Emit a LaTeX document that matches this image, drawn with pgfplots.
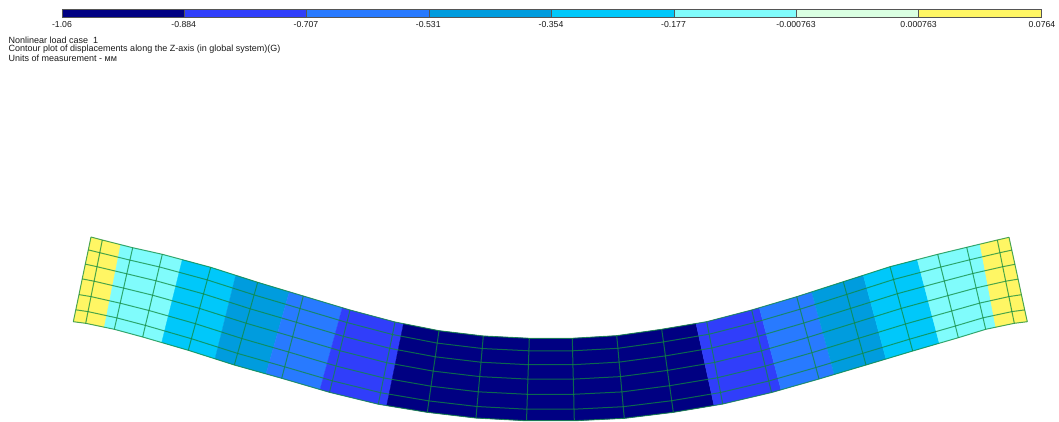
\documentclass[border=0pt]{standalone}
\usepackage{fontspec}
\setmainfont{Liberation Sans}
\usepackage{pgfplots}
\pgfplotsset{compat=1.18}

\definecolor{cNavy}{RGB}{0,0,130}
\definecolor{cBlueA}{RGB}{48,62,250}
\definecolor{cBlueB}{RGB}{40,122,255}
\definecolor{cBlueC}{RGB}{0,156,222}
\definecolor{cCyan}{RGB}{0,200,250}
\definecolor{cLight}{RGB}{128,252,252}
\definecolor{cPale}{RGB}{218,255,226}
\definecolor{cYellow}{RGB}{255,246,100}
\definecolor{cMesh}{RGB}{16,138,62}
\definecolor{cFrame}{RGB}{85,85,85}

\pgfplotsset{
	band/.style={fill=#1, draw=#1, line width=0.3pt},
	seg/.style={fill=#1, draw=cFrame, line width=0.8pt},
	grid/.style={draw=cMesh, line width=1pt, draw opacity=0.75},
}

\begin{document}
\begin{tikzpicture}
\begin{axis}[
	scale only axis, width=1059pt, height=421pt,
	xmin=0, xmax=1059, ymin=0, ymax=421,
	y dir=reverse,
	axis line style={draw=none}, xtick=\empty, ytick=\empty,
]
% colour scale
\addplot[seg=cNavy] coordinates {(62,9.5)(184.3,9.5)(184.3,17.5)(62,17.5)} --cycle;
\addplot[seg=cBlueA] coordinates {(184.3,9.5)(306.6,9.5)(306.6,17.5)(184.3,17.5)} --cycle;
\addplot[seg=cBlueB] coordinates {(306.6,9.5)(429,9.5)(429,17.5)(306.6,17.5)} --cycle;
\addplot[seg=cBlueC] coordinates {(429,9.5)(551.5,9.5)(551.5,17.5)(429,17.5)} --cycle;
\addplot[seg=cCyan] coordinates {(551.5,9.5)(674,9.5)(674,17.5)(551.5,17.5)} --cycle;
\addplot[seg=cLight] coordinates {(674,9.5)(796.3,9.5)(796.3,17.5)(674,17.5)} --cycle;
\addplot[seg=cPale] coordinates {(796.3,9.5)(918.6,9.5)(918.6,17.5)(796.3,17.5)} --cycle;
\addplot[seg=cYellow] coordinates {(918.6,9.5)(1041,9.5)(1041,17.5)(918.6,17.5)} --cycle;

% colour bands of the beam, left to right
\addplot[band=cYellow] coordinates {(91,237)(102.3,240)(120.7,244.7)(104.3,327.2)(85.7,323.3)(73.3,321.7)} --cycle;
\addplot[band=cLight] coordinates {(120.7,244.7)(132.7,247.7)(162.3,254.3)(182.3,259.7)(161.7,342.5)(142.7,337)(114.3,329.3)(104.3,327.2)} --cycle;
\addplot[band=cCyan] coordinates {(182.3,259.7)(210.7,267.3)(235.7,275.3)(215,358.8)(188.3,350.3)(161.7,342.5)} --cycle;
\addplot[band=cBlueC] coordinates {(235.7,275.3)(257.7,282.3)(289.3,291.8)(266,373.9)(234.3,365)(215,358.8)} --cycle;
\addplot[band=cBlueB] coordinates {(289.3,291.8)(303.3,296)(342.3,307.7)(320,389.5)(281.7,378.3)(266,373.9)} --cycle;
\addplot[band=cBlueA] coordinates {(342.3,307.7)(350,310)(395,322)(403.5,323.7)(386.7,405.6)(378.3,404.2)(329.5,392.3)(320,389.5)} --cycle;
\addplot[band=cNavy] coordinates {(403.5,323.7)(439,330.7)(483.3,336)(529.3,338.3)(572.3,338.3)(616.7,335.7)(661.7,329.3)(696,323.5)(714,405.5)(673.3,412.3)(624.3,418.3)(574.3,420.7)(526.5,420.7)(476,418)(427.3,412.3)(386.7,405.6)} --cycle;
\addplot[band=cBlueA] coordinates {(696,323.5)(706.7,321.7)(751.7,310)(759.3,307.8)(781,389.8)(771.5,392.5)(722.7,404)(714,405.5)} --cycle;
\addplot[band=cBlueB] coordinates {(759.3,307.8)(796.7,296.7)(811.7,291.9)(834.3,374.4)(819,379)(781,389.8)} --cycle;
\addplot[band=cBlueC] coordinates {(811.7,291.9)(843.3,281.7)(863.3,275.3)(886,359)(866,365)(834.3,374.4)} --cycle;
\addplot[band=cCyan] coordinates {(863.3,275.3)(890,266.7)(917.3,259.6)(939.3,343.2)(912.7,351)(886,359)} --cycle;
\addplot[band=cLight] coordinates {(917.3,259.6)(937.7,254.3)(966.7,247.3)(980,244.1)(995.7,327.2)(985.7,329.3)(958.3,337.7)(939.3,343.2)} --cycle;
\addplot[band=cYellow] coordinates {(980,244.1)(997.3,240)(1009,237.3)(1027.3,321.7)(1014.3,323.3)(995.7,327.2)} --cycle;

% mesh, lines along the beam
\addplot[grid] coordinates {(91,237)(102.3,240)(132.7,247.7)(162.3,254.3)(210.7,267.3)(257.7,282.3)(303.3,296)(350,310)(395,322)(439,330.7)(483.3,336)(529.3,338.3)(572.3,338.3)(616.7,335.7)(661.7,329.3)(706.7,321.7)(751.7,310)(796.7,296.7)(843.3,281.7)(890,266.7)(937.7,254.3)(966.7,247.3)(997.3,240)(1009,237.3)};
\addplot[grid] coordinates {(88.3,249.9)(99.8,252.7)(129.9,260.1)(159.3,266.9)(207.3,279.9)(254.1,294.9)(300,308.5)(346.9,322.5)(392.5,334.5)(437.2,343.1)(482.2,348.5)(528.9,350.8)(572.6,350.8)(617.9,348.3)(663.5,341.9)(709.1,334.2)(754.7,322.5)(800.1,309.2)(846.8,294.4)(893.5,279.5)(940.8,267)(969.6,259.8)(999.9,252.7)(1011.8,250.1)};
\addplot[grid] coordinates {(85.3,264.1)(97,266.7)(126.8,273.8)(156,280.8)(203.5,293.9)(250.2,308.8)(296.4,322.3)(343.4,336.3)(389.7,348.3)(435.3,356.8)(481,362.2)(528.4,364.7)(572.9,364.7)(619.1,362.1)(665.4,355.9)(711.8,348)(758,336.4)(803.8,323)(850.6,308.4)(897.3,293.7)(944.3,281)(972.8,273.5)(1002.7,266.7)(1014.9,264.3)};
\addplot[grid] coordinates {(82.2,278.9)(94.1,281.2)(123.6,288.1)(152.6,295.2)(199.6,308.4)(246.1,323.2)(292.6,336.7)(339.9,350.7)(386.7,362.7)(433.2,371.1)(479.7,376.6)(527.9,379.1)(573.3,379.1)(620.5,376.6)(667.4,370.4)(714.6,362.4)(761.5,350.8)(807.7,337.4)(854.5,322.9)(901.2,308.4)(947.9,295.6)(976.1,287.9)(1005.7,281.2)(1018.1,279.1)};
\addplot[grid] coordinates {(79,294.6)(91,296.6)(120.2,303.2)(149,310.5)(195.5,323.7)(241.8,338.5)(288.6,352)(336.1,366)(383.6,377.9)(431,386.2)(478.3,391.8)(527.4,394.3)(573.7,394.3)(621.9,391.9)(669.6,385.7)(717.6,377.7)(765.2,366.1)(811.9,352.7)(858.7,338.3)(905.4,324)(951.7,311)(979.6,303.1)(1008.9,296.6)(1021.4,294.7)};
\addplot[grid] coordinates {(75.8,309.8)(88,311.6)(116.9,317.9)(145.4,325.4)(191.4,338.7)(237.6,353.4)(284.7,366.8)(332.4,380.8)(380.6,392.7)(428.9,400.9)(477,406.5)(526.9,409.2)(574,409.2)(623.2,406.7)(671.7,400.7)(720.5,392.5)(768.7,381)(815.9,367.5)(862.8,353.3)(909.5,339.2)(955.4,326)(983,317.8)(1011.9,311.6)(1024.7,309.9)};
\addplot[grid] coordinates {(73.3,321.7)(85.7,323.3)(114.3,329.3)(142.7,337)(188.3,350.3)(234.3,365)(281.7,378.3)(329.5,392.3)(378.3,404.2)(427.3,412.3)(476,418)(526.5,420.7)(574.3,420.7)(624.3,418.3)(673.3,412.3)(722.7,404)(771.5,392.5)(819,379)(866,365)(912.7,351)(958.3,337.7)(985.7,329.3)(1014.3,323.3)(1027.3,321.7)};

% mesh, lines across the beam
\addplot[grid] coordinates {(91,237)(88.3,249.9)(85.3,264.1)(82.2,278.9)(79,294.6)(75.8,309.8)(73.3,321.7)};
\addplot[grid] coordinates {(102.3,240)(99.8,252.7)(97,266.7)(94.1,281.2)(91,296.6)(88,311.6)(85.7,323.3)};
\addplot[grid] coordinates {(132.7,247.7)(129.9,260.1)(126.8,273.8)(123.6,288.1)(120.2,303.2)(116.9,317.9)(114.3,329.3)};
\addplot[grid] coordinates {(162.3,254.3)(159.3,266.9)(156,280.8)(152.6,295.2)(149,310.5)(145.4,325.4)(142.7,337)};
\addplot[grid] coordinates {(210.7,267.3)(207.3,279.9)(203.5,293.9)(199.6,308.4)(195.5,323.7)(191.4,338.7)(188.3,350.3)};
\addplot[grid] coordinates {(257.7,282.3)(254.1,294.9)(250.2,308.8)(246.1,323.2)(241.8,338.5)(237.6,353.4)(234.3,365)};
\addplot[grid] coordinates {(303.3,296)(300,308.5)(296.4,322.3)(292.6,336.7)(288.6,352)(284.7,366.8)(281.7,378.3)};
\addplot[grid] coordinates {(350,310)(346.9,322.5)(343.4,336.3)(339.9,350.7)(336.1,366)(332.4,380.8)(329.5,392.3)};
\addplot[grid] coordinates {(395,322)(392.5,334.5)(389.7,348.3)(386.7,362.7)(383.6,377.9)(380.6,392.7)(378.3,404.2)};
\addplot[grid] coordinates {(439,330.7)(437.2,343.1)(435.3,356.8)(433.2,371.1)(431,386.2)(428.9,400.9)(427.3,412.3)};
\addplot[grid] coordinates {(483.3,336)(482.2,348.5)(481,362.2)(479.7,376.6)(478.3,391.8)(477,406.5)(476,418)};
\addplot[grid] coordinates {(529.3,338.3)(528.9,350.8)(528.4,364.7)(527.9,379.1)(527.4,394.3)(526.9,409.2)(526.5,420.7)};
\addplot[grid] coordinates {(572.3,338.3)(572.6,350.8)(572.9,364.7)(573.3,379.1)(573.7,394.3)(574,409.2)(574.3,420.7)};
\addplot[grid] coordinates {(616.7,335.7)(617.9,348.3)(619.1,362.1)(620.5,376.6)(621.9,391.9)(623.2,406.7)(624.3,418.3)};
\addplot[grid] coordinates {(661.7,329.3)(663.5,341.9)(665.4,355.9)(667.4,370.4)(669.6,385.7)(671.7,400.7)(673.3,412.3)};
\addplot[grid] coordinates {(706.7,321.7)(709.1,334.2)(711.8,348)(714.6,362.4)(717.6,377.7)(720.5,392.5)(722.7,404)};
\addplot[grid] coordinates {(751.7,310)(754.7,322.5)(758,336.4)(761.5,350.8)(765.2,366.1)(768.7,381)(771.5,392.5)};
\addplot[grid] coordinates {(796.7,296.7)(800.1,309.2)(803.8,323)(807.7,337.4)(811.9,352.7)(815.9,367.5)(819,379)};
\addplot[grid] coordinates {(843.3,281.7)(846.8,294.4)(850.6,308.4)(854.5,322.9)(858.7,338.3)(862.8,353.3)(866,365)};
\addplot[grid] coordinates {(890,266.7)(893.5,279.5)(897.3,293.7)(901.2,308.4)(905.4,324)(909.5,339.2)(912.7,351)};
\addplot[grid] coordinates {(937.7,254.3)(940.8,267)(944.3,281)(947.9,295.6)(951.7,311)(955.4,326)(958.3,337.7)};
\addplot[grid] coordinates {(966.7,247.3)(969.6,259.8)(972.8,273.5)(976.1,287.9)(979.6,303.1)(983,317.8)(985.7,329.3)};
\addplot[grid] coordinates {(997.3,240)(999.9,252.7)(1002.7,266.7)(1005.7,281.2)(1008.9,296.6)(1011.9,311.6)(1014.3,323.3)};
\addplot[grid] coordinates {(1009,237.3)(1011.8,250.1)(1014.9,264.3)(1018.1,279.1)(1021.4,294.7)(1024.7,309.9)(1027.3,321.7)};

% scale labels
\tikzset{
	lab/.style={font=\fontsize{8.7}{9}\selectfont, text=black!90, inner sep=0pt},
	captext/.style={font=\fontsize{9}{9}\selectfont, text=black!90, inner sep=0pt, anchor=west},
}
\node[lab] at (axis cs:62,24.5) {-1.06};
\node[lab] at (axis cs:183.7,24.5) {-0.884};
\node[lab] at (axis cs:306,24.5) {-0.707};
\node[lab] at (axis cs:428.3,24.5) {-0.531};
\node[lab] at (axis cs:551,24.5) {-0.354};
\node[lab] at (axis cs:673.5,24.5) {-0.177};
\node[lab] at (axis cs:796,24.5) {-0.000763};
\node[lab] at (axis cs:918.6,24.5) {0.000763};
\node[lab] at (axis cs:1042,24.5) {0.0764};

% caption
\node[captext] at (axis cs:8.5,40.5) {Nonlinear load case\ \ 1};
\node[captext] at (axis cs:8.5,49.5) {Contour plot of displacements along the Z-axis (in global system)(G)};
\node[captext] at (axis cs:8.5,58.5) {Units of measurement - мм};
\end{axis}
\end{tikzpicture}
\end{document}
